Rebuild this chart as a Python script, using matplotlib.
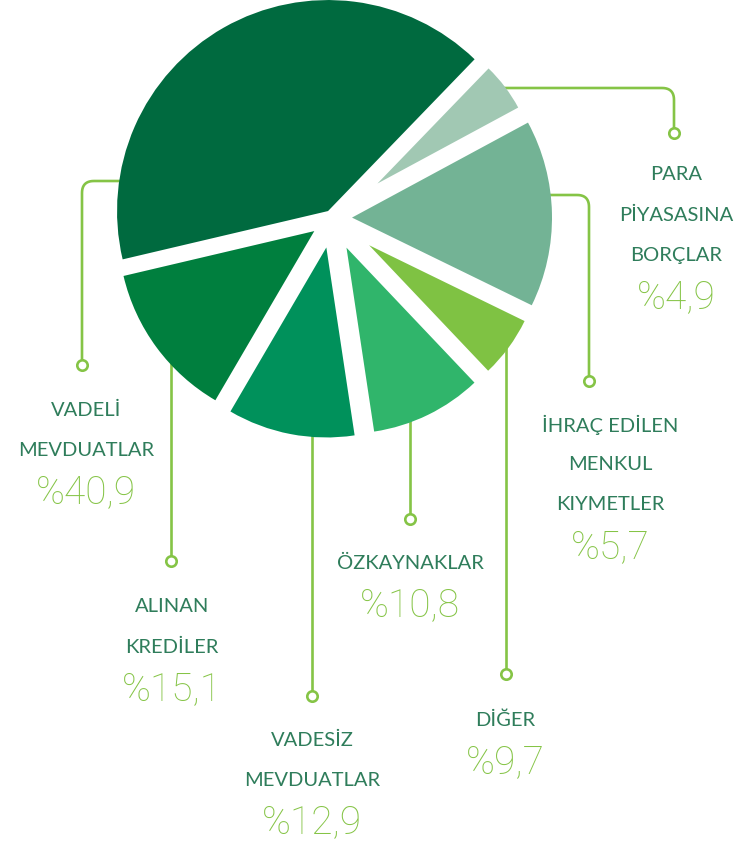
import numpy as np
import matplotlib
matplotlib.use("Agg")
import matplotlib.pyplot as plt

# slice values as drawn, going counterclockwise from the top-right gap
slice_values = [40.9, 12.9, 10.8, 9.7, 5.7, 15.1, 4.9]
slice_colors = ["#006a3f", "#007f3e", "#00915b", "#30b56b", "#7fc243", "#73b395", "#a1c8b3"]
slice_radius = [211, 196, 190, 186, 173, 200, 160]
slice_explode = [8, 22, 30, 33, 46, 20, 57]

# label text (name lines + percent) for each slice, same order
label_names = [
    ["VADELİ", "MEVDUATLAR"],
    ["ALINAN", "KREDİLER"],
    ["VADESİZ", "MEVDUATLAR"],
    ["ÖZKAYNAKLAR"],
    ["DİĞER"],
    ["İHRAÇ EDİLEN", "MENKUL", "KIYMETLER"],
    ["PARA", "PİYASASINA", "BORÇLAR"],
]
label_pcts = ["%40,9", "%15,1", "%12,9", "%10,8", "%9,7", "%5,7", "%4,9"]

W, H = 754, 844
fig = plt.figure(figsize=(W / 100, H / 100), dpi=100)
ax = fig.add_axes([0, 0, 1, 1])

def Y(y):
    # picture rows to data y
    return H - y

wedges, _ = ax.pie(slice_values, colors=slice_colors, startangle=46, counterclock=True,
                   radius=200, center=(332, Y(218)), explode=slice_explode,
                   wedgeprops=dict(linewidth=0))
for w, r in zip(wedges, slice_radius):
    w.set_radius(r)
    w.set_zorder(3)

ax.set_xlim(0, W)
ax.set_ylim(0, H)
ax.set_aspect("equal")
ax.axis("off")

lime = "#85c446"
name_col = "#2f7d5b"

def leader(points, corner=12):
    # polyline with rounded corners, picture coords
    pts = [np.array(p, float) for p in points]
    xs, ys = [pts[0][0]], [pts[0][1]]
    for i in range(1, len(pts) - 1):
        a, b, c = pts[i - 1], pts[i], pts[i + 1]
        u = (a - b) / np.linalg.norm(a - b)
        v = (c - b) / np.linalg.norm(c - b)
        p0 = b + u * corner
        p1 = b + v * corner
        t = np.linspace(0, 1, 12)
        q = ((1 - t) ** 2)[:, None] * p0 + (2 * t * (1 - t))[:, None] * b + (t ** 2)[:, None] * p1
        xs += list(q[:, 0])
        ys += list(q[:, 1])
    xs.append(pts[-1][0])
    ys.append(pts[-1][1])
    ax.plot(xs, [Y(y) for y in ys], color=lime, lw=1.9, zorder=1, solid_capstyle="butt")
    ax.plot(pts[-1][0], Y(pts[-1][1]), "o", ms=7.5, mfc="white", mec=lime, mew=1.9, zorder=2)

leaders = [
    [(140, 181), (82, 181), (82, 365)],
    [(171, 330), (171, 561)],
    [(312, 420), (312, 696)],
    [(410, 400), (410, 519)],
    [(506, 330), (506, 674)],
    [(540, 195), (589, 195), (589, 381)],
    [(490, 88), (674, 88), (674, 133)],
]
for pts in leaders:
    leader(pts)

# text block: x centre, y of first line
text_pos = [(86, 410), (172, 607), (312, 740), (410, 563), (505, 720), (610, 425), (676, 175)]
name_font = dict(family=["Lato", "DejaVu Sans"], weight="normal")
pct_font = dict(family=["Roboto", "DejaVu Sans"], weight="light")
for names, pct, (tx, ty) in zip(label_names, label_pcts, text_pos):
    y = ty
    for n in names:
        ax.text(tx, Y(y), n, ha="center", va="center", fontsize=14.5, color=name_col, **name_font)
        y += 40
    ax.text(tx, Y(y + 2), pct, ha="center", va="center", fontsize=28, color=lime, **pct_font)

fig.savefig("out.png", dpi=100)
